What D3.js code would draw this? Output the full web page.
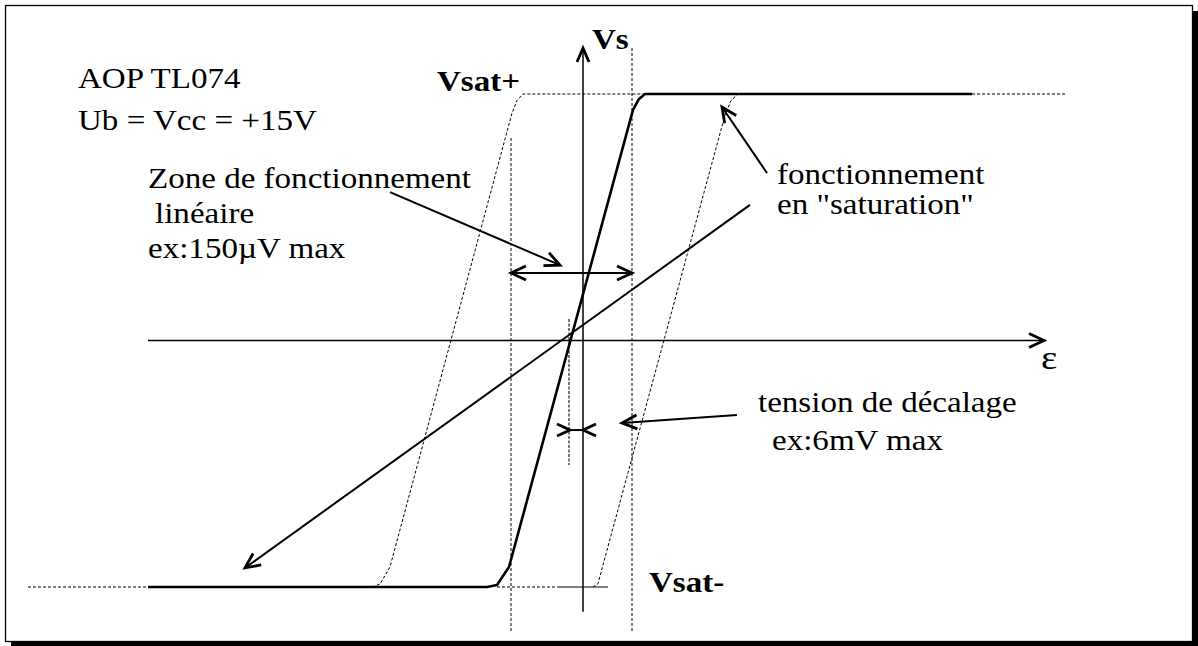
<!DOCTYPE html>
<html lang="fr">
<head>
<meta charset="UTF-8">
<title>Caractéristique AOP TL074</title>
<script src="https://cdn.jsdelivr.net/npm/d3@7/dist/d3.min.js"></script>
<style>
    body { margin: 0; background: #fff; }
    svg { display: block; }
    .lbl { font-family: "Liberation Serif", "Times New Roman", serif; font-size: 29px; fill: #000; }
    .bold { font-weight: bold; }
    .grand { font-size: 34px; }
</style>
</head>
<body>
<script>
    // courbes Vs = f(epsilon) ; x en unites "epsilon", y en volts (Vsat = +/-15)
    var courbeReelle = [[-43.5,-15],[-9.6,-15],[-8.6,-14.88],[-7.4,-13.78],[5.0,14.03],[5.6,14.7],[6.2,15],[38.9,15]];
    var prolongGauche = [[-55.5,-15],[-43.5,-15]];
    var prolongDroite = [[38.9,15],[48.4,15]];
    var courbeDecaleeG = [[-21.1,-15],[-20.3,-14.82],[-19.3,-13.78],[-7.1,13.84],[-6.6,14.6],[-6.0,15],[6.2,15]];
    var courbeDecaleeD = [[1.0,-15],[1.5,-14.8],[2.0,-13.66],[14.2,13.72],[14.8,14.6],[15.5,15]];
    var basPointille = [[-8.6,-15],[-2.3,-15]];
    var basFin = [[-2.3,-15],[2.5,-15]];

    // reperes verticaux (zone lineaire et decalage)
    var reperes = [
        {x: -7.2, y0: 12.32, y1: -17.74, cls: "thin"},
        {x: 4.9, y0: 17.8, y1: -17.74, cls: "thin"},
        {x: -1.4, y0: 1.31, y1: -7.58, cls: "gris"}
    ];

    // axes
    var axeEps = [[-43.5,0],[46.1,0]];
    var axeVs = [[0,-16.5],[0,17.8]];

    // fleches d'annotation : [queue, pointe]
    var fleches = [
        [[-19.3,9.03],[-2.3,4.59]],
        [[18.4,10.19],[13.9,14.21]],
        [[16.7,8.25],[-33.8,-13.84]],
        [[15.4,-4.53],[3.9,-5.02]]
    ];
    var doubleLineaire = [[-7.2,4.11],[4.9,4.11]];
    var doubleDecalage = [[-1.3,-5.45],[0,-5.45]];

    var textes = [
        {t: "AOP TL074", x: 78, y: 88},
        {t: "Ub = Vcc = +15V", x: 78, y: 130},
        {t: "Zone de fonctionnement", x: 148, y: 188},
        {t: "linéaire", x: 155, y: 223},
        {t: "ex:150µV max", x: 148, y: 258},
        {t: "fonctionnement", x: 777, y: 184},
        {t: "en \"saturation\"", x: 777, y: 214},
        {t: "tension de décalage", x: 758, y: 412},
        {t: "ex:6mV max", x: 772, y: 450},
        {t: "ε", x: 1041, y: 369, g: true},
        {t: "Vs", x: 592, y: 49, b: true},
        {t: "Vsat+", x: 437, y: 91, b: true},
        {t: "Vsat-", x: 649, y: 592, b: true}
    ];

    var W = 1198, H = 646;
    var x = d3.scaleLinear().domain([-50, 50]).range([83, 1083]);
    var y = d3.scaleLinear().domain([-15, 15]).range([587, 94]);
    var line = d3.line().x(d => x(d[0])).y(d => y(d[1]));

    var svg = d3.select("body").append("svg")
        .attr("width", W).attr("height", H);

    // cadre avec ombre
    svg.append("rect").attr("x", 11).attr("y", 11).attr("width", W - 11).attr("height", H - 11).attr("fill", "#000");
    svg.append("rect").attr("x", 5.5).attr("y", 5.5).attr("width", 1187).attr("height", 636)
        .attr("fill", "#fff").attr("stroke", "#000").attr("stroke-width", 1.3);

    function trace(pts, w, dash, col) {
        svg.append("path").attr("d", line(pts))
            .attr("fill", "none")
            .attr("stroke", col || "#000")
            .attr("stroke-width", w)
            .attr("stroke-dasharray", dash || null)
            .attr("stroke-linejoin", "round");
    }

    // pointe en chevron ouvert
    function chevron(tip, tail, len, w) {
        var tx = x(tip[0]), ty = y(tip[1]);
        var dx = x(tail[0]) - tx, dy = y(tail[1]) - ty;
        var n = Math.sqrt(dx * dx + dy * dy);
        var ux = dx / n, uy = dy / n;
        var p1 = [tx + ux * len - uy * w, ty + uy * len + ux * w];
        var p2 = [tx + ux * len + uy * w, ty + uy * len - ux * w];
        svg.append("path")
            .attr("d", "M" + p1 + "L" + tx + "," + ty + "L" + p2)
            .attr("fill", "none").attr("stroke", "#000")
            .attr("stroke-width", 2.8).attr("stroke-linejoin", "miter");
    }

    // reperes pointilles
    reperes.forEach(function (r) {
        if (r.cls == "gris") trace([[r.x, r.y0], [r.x, r.y1]], 2, "3,1.5", "#777");
        else trace([[r.x, r.y0], [r.x, r.y1]], 1, "3,2");
    });

    // axes
    trace(axeEps, 1.5);
    trace(axeVs, 1.5);
    chevron(axeEps[1], axeEps[0], 15, 7);
    chevron(axeVs[1], axeVs[0], 14, 6);

    // courbes decalees (pointilles fins)
    trace(courbeDecaleeG, 1, "3,2");
    trace(courbeDecaleeD, 1, "3,2");
    trace(basPointille, 1, "3,2");
    trace(basFin, 1.2);
    trace(prolongGauche, 1, "3,2");
    trace(prolongDroite, 1, "3,2");

    // courbe reelle
    trace(courbeReelle, 2.6);

    // fleches d'annotation
    fleches.forEach(function (f) {
        trace(f, 2);
        chevron(f[1], f[0], 15, 7);
    });
    trace(doubleLineaire, 2);
    chevron(doubleLineaire[0], doubleLineaire[1], 15, 7);
    chevron(doubleLineaire[1], doubleLineaire[0], 15, 7);
    trace(doubleDecalage, 2);
    chevron(doubleDecalage[0], [doubleDecalage[0][0] - 2, doubleDecalage[0][1]], 13, 6);
    chevron(doubleDecalage[1], [doubleDecalage[1][0] + 2, doubleDecalage[1][1]], 13, 6);

    // textes
    svg.selectAll(".lbl").data(textes).enter().append("text")
        .attr("class", d => "lbl" + (d.b ? " bold" : "") + (d.g ? " grand" : ""))
        .attr("transform", d => "translate(" + d.x + "," + d.y + ") scale(1.14,1)")
        .attr("xml:space", "preserve")
        .text(d => d.t);
</script>
</body>
</html>
